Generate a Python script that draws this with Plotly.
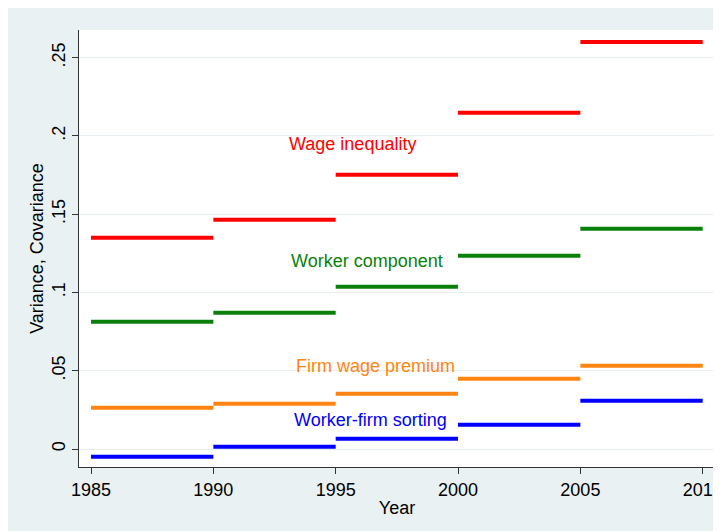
import plotly.graph_objects as go

years = [1985, 1990, 1995, 2000, 2005, 2010]
wage_inequality = [0.1349, 0.1464, 0.1752, 0.2148, 0.2600]
worker_component = [0.0813, 0.0870, 0.1036, 0.1234, 0.1407]
firm_wage_premium = [0.0264, 0.0289, 0.0353, 0.0449, 0.0532]
worker_firm_sorting = [-0.0049, 0.0015, 0.0066, 0.0155, 0.0308]

ytick_vals = [0, 0.05, 0.1, 0.15, 0.2, 0.25]
ytick_text = ["0", ".05", ".1", ".15", ".2", ".25"]

series = [
    ("Wage inequality", wage_inequality, "#FF0000", 1995.70, 0.1949),
    ("Worker component", worker_component, "#0A7F0A", 1996.27, 0.1203),
    ("Firm wage premium", firm_wage_premium, "#FF8412", 1996.62, 0.0532),
    ("Worker-firm sorting", worker_firm_sorting, "#0000FF", 1996.42, 0.0187),
]

FONT = "Liberation Sans, Arial, sans-serif"
fig = go.Figure()
annotations = []
for name, vals, color, lx, ly in series:
    xs, ys = [], []
    for i, v in enumerate(vals):
        xs += [years[i], years[i + 1], None]
        ys += [v, v, None]
    fig.add_trace(go.Scatter(x=xs, y=ys, mode="lines", name=name,
                             line=dict(color=color, width=4), showlegend=False,
                             connectgaps=False))
    annotations.append(dict(x=lx, y=ly, xref="x", yref="y", text=name,
                            showarrow=False, font=dict(color=color, size=18, family=FONT),
                            xanchor="center", yanchor="middle"))

bg = "#EAF1F3"
fig.update_layout(
    width=713, height=523,
    margin=dict(l=71, r=6, t=22, b=64),
    paper_bgcolor=bg, plot_bgcolor="white",
    font=dict(family=FONT, size=18, color="black"),
    annotations=annotations,
    xaxis=dict(range=[1984.509, 2010.503], tickvals=years, ticks="outside", ticklen=6,
               tickwidth=1, tickcolor="#333", showline=True, linecolor="#333", linewidth=1,
               showgrid=False, zeroline=False, automargin=False,
               ticklabeloverflow="allow",
               title=dict(text="Year", standoff=2, font=dict(size=18))),
    yaxis=dict(range=[-0.01149, 0.2677], tickvals=ytick_vals, ticktext=ytick_text,
               tickangle=-90, ticks="outside", ticklen=6, tickwidth=1, tickcolor="#333",
               showline=True, linecolor="#333", linewidth=1,
               showgrid=True, gridcolor="#E6EEF1", gridwidth=1, zeroline=False,
               automargin=False,
               title=dict(text="Variance, Covariance", standoff=0, font=dict(size=18))),
)

fig.write_html("out.html")
